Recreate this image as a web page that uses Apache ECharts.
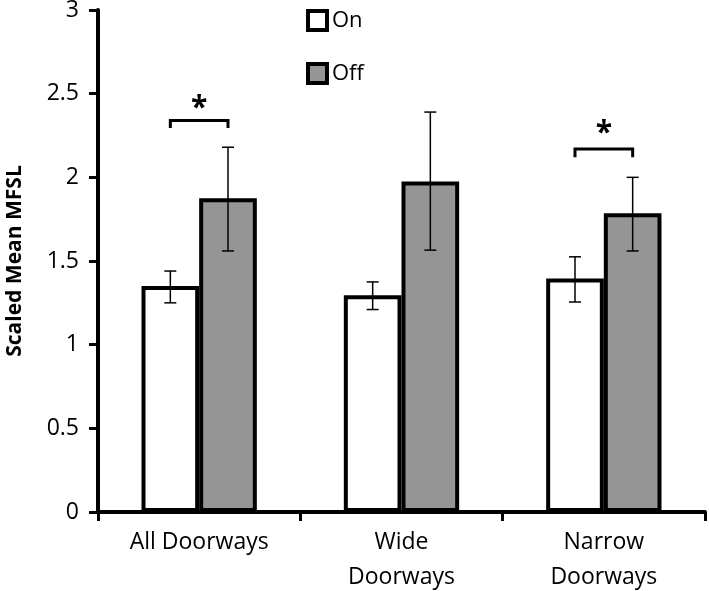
<!DOCTYPE html>
<html>
<head>
<meta charset="utf-8">
<script src="https://cdn.jsdelivr.net/npm/echarts@6/dist/echarts.min.js"></script>
<style>
html,body{margin:0;padding:0;background:#fff;}
#chart{width:709px;height:591px;}
</style>
</head>
<body>
<div id="chart"></div>
<script>
const categories = ['All Doorways', 'Wide\nDoorways', 'Narrow\nDoorways'];
const seriesNames = ['On', 'Off'];
const onValues = [1.35, 1.295, 1.395];
const offValues = [1.875, 1.975, 1.785];
const onErrLow = [1.25, 1.21, 1.255];
const onErrHigh = [1.44, 1.375, 1.525];
const offErrLow = [1.56, 1.565, 1.56];
const offErrHigh = [2.18, 2.39, 2.0];
const sigCategories = [0, 2];
const sigBracketY = [2.34, 2.17];
const sigTickY = [2.295, 2.12];
const sigStarY = [2.41, 2.26];
const yTicks = [0, 0.5, 1, 1.5, 2, 2.5, 3];

const FONT = '"Open Sans", "Noto Sans", sans-serif';
const BAR_FRAC = 0.285;

const chart = echarts.init(document.getElementById('chart'), null, {renderer: 'canvas'});

function errRender(sign) {
  return function (params, api) {
    const cat = api.value(0);
    const lo = api.coord([cat, api.value(1)]);
    const hi = api.coord([cat, api.value(2)]);
    const bw = api.size([1, 0])[0];
    const x = lo[0] + sign * BAR_FRAC * bw / 2;
    const cap = 6;
    const style = {stroke: '#000', lineWidth: 1.5};
    return {
      type: 'group',
      children: [
        {type: 'line', shape: {x1: x, y1: lo[1], x2: x, y2: hi[1]}, style: style},
        {type: 'line', shape: {x1: x - cap, y1: lo[1], x2: x + cap, y2: lo[1]}, style: style},
        {type: 'line', shape: {x1: x - cap, y1: hi[1], x2: x + cap, y2: hi[1]}, style: style}
      ]
    };
  };
}

const onErrData = categories.map((c, i) => [i, onErrLow[i], onErrHigh[i]]);
const offErrData = categories.map((c, i) => [i, offErrLow[i], offErrHigh[i]]);
const sigData = sigCategories.map((c, i) => [c, sigBracketY[i], sigTickY[i], sigStarY[i]]);

const option = {
  backgroundColor: '#fff',
  animation: false,
  textStyle: {fontFamily: FONT, color: '#000'},
  grid: {left: 98, right: 4, top: 10, bottom: 79, containLabel: false, outerBoundsMode: 'none'},
  legend: {
    orient: 'vertical',
    left: 301,
    top: 4,
    itemWidth: 19,
    itemHeight: 19,
    itemGap: 30,
    icon: 'rect',
    data: seriesNames,
    textStyle: {fontFamily: FONT, fontSize: 22, color: '#000'},
    itemStyle: {borderColor: '#000', borderWidth: 4}
  },
  xAxis: {
    type: 'category',
    data: categories,
    axisLine: {lineStyle: {color: '#000', width: 4}},
    axisTick: {show: true, length: 9, lineStyle: {color: '#000', width: 3}},
    axisLabel: {fontFamily: FONT, fontSize: 23, color: '#000', margin: 13, lineHeight: 35}
  },
  yAxis: {
    type: 'value',
    min: 0, max: 3, interval: 0.5,
    name: 'Scaled Mean MFSL',
    nameLocation: 'middle',
    nameRotate: 90,
    nameGap: 72,
    nameTextStyle: {fontFamily: FONT, fontSize: 21, fontWeight: 'bold', color: '#000'},
    axisLine: {show: true, lineStyle: {color: '#000', width: 4}},
    axisTick: {show: true, length: 9, lineStyle: {color: '#000', width: 3}},
    axisLabel: {fontFamily: FONT, fontSize: 23, color: '#000', margin: 19,
      formatter: v => String(yTicks.find(t => Math.abs(t - v) < 1e-9) ?? v)},
    splitLine: {show: false}
  },
  series: [
    {
      name: 'On', type: 'bar', data: onValues,
      barWidth: (BAR_FRAC * 100) + '%', barGap: '0%',
      itemStyle: {color: '#ffffff', borderColor: '#000', borderWidth: 4}
    },
    {
      name: 'Off', type: 'bar', data: offValues,
      barWidth: (BAR_FRAC * 100) + '%', barGap: '0%',
      itemStyle: {color: '#959595', borderColor: '#000', borderWidth: 4}
    },
    {type: 'custom', renderItem: errRender(-1), data: onErrData, z: 5, encode: {x: 0, y: [1, 2]}},
    {type: 'custom', renderItem: errRender(1), data: offErrData, z: 5, encode: {x: 0, y: [1, 2]}},
    {
      type: 'custom', z: 6, data: sigData, encode: {x: 0, y: [1, 2, 3]},
      renderItem: function (params, api) {
        const cat = api.value(0);
        const top = api.coord([cat, api.value(1)]);
        const tick = api.coord([cat, api.value(2)]);
        const star = api.coord([cat, api.value(3)]);
        const bw = api.size([1, 0])[0];
        const x1 = top[0] - BAR_FRAC * bw / 2;
        const x2 = top[0] + BAR_FRAC * bw / 2;
        return {
          type: 'group',
          children: [
            {type: 'polyline', shape: {points: [[x1, tick[1]], [x1, top[1]], [x2, top[1]], [x2, tick[1]]]},
             style: {stroke: '#000', lineWidth: 3, fill: null}},
            {type: 'text', x: top[0], y: star[1],
             style: {text: '*', fontFamily: FONT, fontSize: 30, fontWeight: 'bold', fill: '#000',
                     align: 'center', verticalAlign: 'middle'}}
          ]
        };
      }
    }
  ]
};
chart.setOption(option);
</script>
</body>
</html>
